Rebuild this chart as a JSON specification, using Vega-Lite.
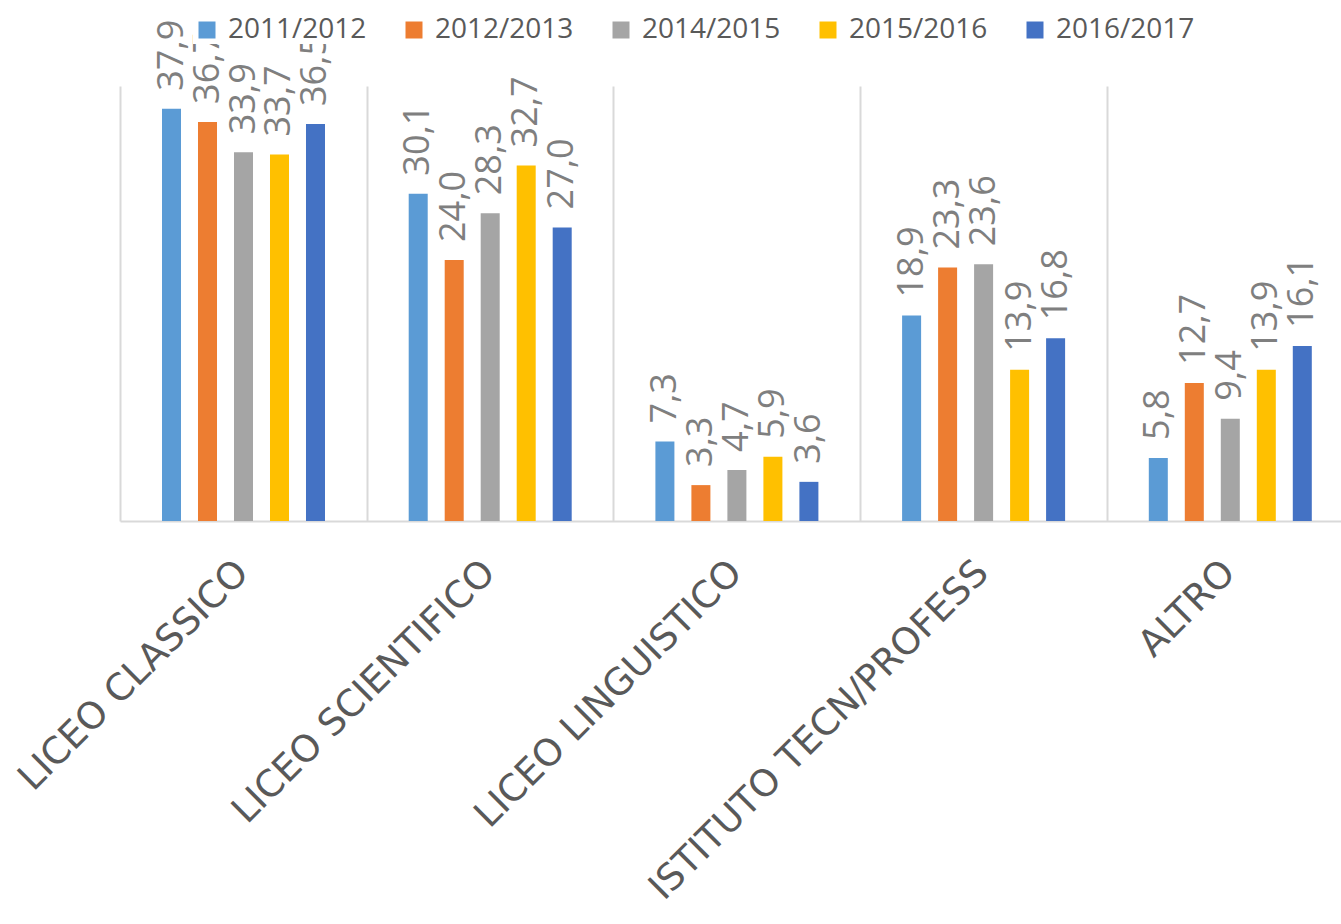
{
  "$schema": "https://vega.github.io/schema/vega-lite/v6.json",
  "width": 1221,
  "height": 435,
  "autosize": {"type": "none"},
  "padding": {"left": 120, "top": 86, "right": 0, "bottom": 403},
  "config": {
    "view": {"stroke": null},
    "font": "Open Sans",
    "locale": {"number": {"decimal": ",", "thousands": ".", "grouping": [3], "currency": ["", " €"]}}
  },
  "data": {
    "values": [
      {"scuola": "LICEO CLASSICO", "anno": "2011/2012", "valore": 37.9},
      {"scuola": "LICEO CLASSICO", "anno": "2012/2013", "valore": 36.7},
      {"scuola": "LICEO CLASSICO", "anno": "2014/2015", "valore": 33.9},
      {"scuola": "LICEO CLASSICO", "anno": "2015/2016", "valore": 33.7},
      {"scuola": "LICEO CLASSICO", "anno": "2016/2017", "valore": 36.5},
      {"scuola": "LICEO SCIENTIFICO", "anno": "2011/2012", "valore": 30.1},
      {"scuola": "LICEO SCIENTIFICO", "anno": "2012/2013", "valore": 24.0},
      {"scuola": "LICEO SCIENTIFICO", "anno": "2014/2015", "valore": 28.3},
      {"scuola": "LICEO SCIENTIFICO", "anno": "2015/2016", "valore": 32.7},
      {"scuola": "LICEO SCIENTIFICO", "anno": "2016/2017", "valore": 27.0},
      {"scuola": "LICEO LINGUISTICO", "anno": "2011/2012", "valore": 7.3},
      {"scuola": "LICEO LINGUISTICO", "anno": "2012/2013", "valore": 3.3},
      {"scuola": "LICEO LINGUISTICO", "anno": "2014/2015", "valore": 4.7},
      {"scuola": "LICEO LINGUISTICO", "anno": "2015/2016", "valore": 5.9},
      {"scuola": "LICEO LINGUISTICO", "anno": "2016/2017", "valore": 3.6},
      {"scuola": "ISTITUTO TECN/PROFESS", "anno": "2011/2012", "valore": 18.9},
      {"scuola": "ISTITUTO TECN/PROFESS", "anno": "2012/2013", "valore": 23.3},
      {"scuola": "ISTITUTO TECN/PROFESS", "anno": "2014/2015", "valore": 23.6},
      {"scuola": "ISTITUTO TECN/PROFESS", "anno": "2015/2016", "valore": 13.9},
      {"scuola": "ISTITUTO TECN/PROFESS", "anno": "2016/2017", "valore": 16.8},
      {"scuola": "ALTRO", "anno": "2011/2012", "valore": 5.8},
      {"scuola": "ALTRO", "anno": "2012/2013", "valore": 12.7},
      {"scuola": "ALTRO", "anno": "2014/2015", "valore": 9.4},
      {"scuola": "ALTRO", "anno": "2015/2016", "valore": 13.9},
      {"scuola": "ALTRO", "anno": "2016/2017", "valore": 16.1}
    ]
  },
  "encoding": {
    "x": {
      "field": "scuola",
      "type": "nominal",
      "sort": null,
      "title": null,
      "scale": {"range": [0, 1233.5], "paddingInner": 0, "paddingOuter": 0},
      "axis": {
        "tickBand": "extent",
        "ticks": false,
        "grid": true,
        "gridColor": "#D9D9D9",
        "gridWidth": 2,
        "domain": true,
        "domainColor": "#D9D9D9",
        "domainWidth": 2,
        "labelAngle": -45,
        "labelAlign": "right",
        "labelBaseline": "top",
        "labelPadding": 33,
        "labelOffset": -14,
        "labelFont": "DejaVu Sans",
        "labelFontSize": 37,
        "labelColor": "#595959",
        "labelLimit": 0,
        "labelOverlap": false,
        "labelBound": false
      }
    },
    "xOffset": {
      "field": "anno",
      "type": "nominal",
      "sort": null,
      "scale": {"range": [42, 205], "paddingInner": 0.472, "paddingOuter": 0}
    },
    "y": {
      "field": "valore",
      "type": "quantitative",
      "scale": {"domain": [0, 40], "nice": false},
      "axis": null
    }
  },
  "layer": [
    {
      "mark": {"type": "bar"},
      "encoding": {
        "color": {
          "field": "anno",
          "type": "nominal",
          "sort": null,
          "scale": {
            "domain": ["2011/2012", "2012/2013", "2014/2015", "2015/2016", "2016/2017"],
            "range": ["#5B9BD5", "#ED7D31", "#A5A5A5", "#FFC000", "#4472C4"]
          },
          "legend": {
            "orient": "none",
            "legendX": 73,
            "legendY": -70,
            "direction": "horizontal",
            "columns": 5,
            "title": null,
            "symbolType": "square",
            "symbolSize": 289,
            "symbolStrokeWidth": 0,
            "symbolOpacity": 1,
            "labelFont": "Open Sans",
            "labelFontSize": 28,
            "labelColor": "#595959",
            "labelOffset": 7,
            "labelLimit": 0,
            "columnPadding": 33,
            "fillColor": "white",
            "padding": 0
          }
        }
      }
    },
    {
      "mark": {
        "type": "text",
        "angle": 270,
        "align": "left",
        "baseline": "middle",
        "dx": 18,
        "font": "Open Sans",
        "fontSize": 36,
        "color": "#7F7F7F"
      },
      "encoding": {
        "text": {"field": "valore", "type": "quantitative", "format": ".1f"}
      }
    }
  ]
}
